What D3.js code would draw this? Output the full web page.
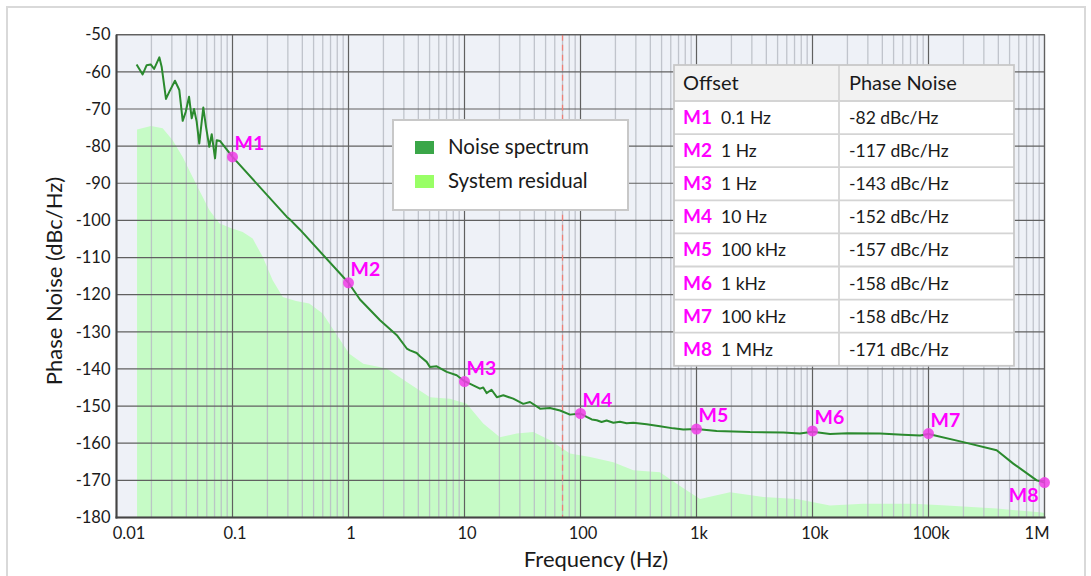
<!DOCTYPE html>
<html>
<head>
<meta charset="utf-8">
<script src="https://cdn.jsdelivr.net/npm/d3@7"></script>
<style>
  html, body { margin: 0; padding: 0; background: #ffffff; }
  svg { display: block; font-family: Lato, "Open Sans", sans-serif; }
</style>
</head>
<body>
<svg id="chart" width="1091" height="576"></svg>
<script>
// ---------------- DATA ----------------
const xTickValues = [0.01, 0.1, 1, 10, 100, 1e3, 1e4, 1e5, 1e6];
const xTickLabels = ["0.01", "0.1", "1", "10", "100", "1k", "10k", "100k", "1M"];
const yTickValues = [-50, -60, -70, -80, -90, -100, -110, -120, -130, -140, -150, -160, -170, -180];
const yTickLabels = ["-50", "-60", "-70", "-80", "-90", "-100", "-110", "-120", "-130", "-140", "-150", "-160", "-170", "-180"];

const noiseFreq = [0.0149, 0.0168, 0.0182, 0.0197, 0.0211, 0.0234, 0.0245, 0.0267, 0.0285, 0.0319,
  0.0348, 0.0372, 0.0395, 0.0422, 0.0445, 0.0466, 0.0491, 0.0517, 0.056, 0.0591,
  0.0631, 0.0662, 0.0707, 0.0731, 0.078, 0.1, 0.293, 0.309, 0.382, 1,
  1.256, 1.87, 2.61, 3.18, 3.39, 3.87, 4.13, 4.72, 5.04, 5.76,
  7.03, 8.57, 10, 11.9, 13.6, 14.5, 15.5, 17.1, 19.0, 21.6,
  26.3, 32.1, 36.7, 44.8, 54.6, 66.6, 81.2, 100, 113, 125,
  138, 152, 168, 192, 219, 250, 285, 372, 484, 631,
  769, 1000, 1493, 2890, 5600, 7800, 10000, 14150, 20000, 38200,
  60000, 84500, 100000, 200000, 387000, 538000, 857000, 1000000];
const noiseDb = [-58.0, -60.7, -58.2, -58.0, -59.2, -56.1, -58.6, -67.3, -65.4, -62.4,
  -64.9, -73.2, -70.8, -66.7, -72.5, -70.0, -73.4, -79.3, -69.6, -74.8,
  -80.2, -76.8, -83.3, -78.4, -78.6, -82.9, -99.0, -99.6, -102.5, -116.8,
  -121.3, -126.9, -130.9, -134.5, -135.0, -135.7, -136.6, -138.1, -139.5, -139.3,
  -140.8, -141.7, -143.3, -144.4, -145.3, -145.0, -146.5, -145.6, -147.6, -147.1,
  -148.0, -149.4, -148.9, -150.7, -150.5, -151.2, -152.3, -152.0, -152.9, -153.6,
  -153.8, -154.3, -153.9, -154.5, -154.2, -154.6, -154.5, -154.9, -155.4, -156.0,
  -156.3, -156.2, -156.7, -157.0, -157.1, -157.4, -156.9, -157.5, -157.3, -157.4,
  -157.7, -157.9, -157.5, -159.7, -161.9, -165.5, -170.0, -170.6];

const residualFreq = [0.01503, 0.01983, 0.025, 0.0305, 0.0372, 0.0484, 0.0631, 0.0769, 0.0939, 0.1224,
  0.1493, 0.182, 0.222, 0.271, 0.353, 0.459, 0.599, 0.78, 1.016, 1.341,
  2.135, 3.18, 5.04, 7.5, 10.45, 14.5, 20.2, 28.2, 39.2, 54.6,
  81.2, 121, 192, 285, 484, 721, 1072, 1945, 3767, 7310,
  14150, 27400, 74000, 143600, 387000, 914000, 1000000];
const residualDb = [-75.5, -74.6, -75.2, -78.4, -82.9, -90.1, -97.2, -100.8, -101.9, -103.1,
  -104.9, -109.8, -116.1, -120.6, -121.7, -122.4, -125.1, -130.5, -135.9, -138.6,
  -139.9, -143.5, -147.6, -148.0, -149.4, -154.7, -158.4, -157.4, -157.0, -159.2,
  -162.8, -163.7, -165.1, -167.3, -167.8, -171.5, -175.0, -173.2, -174.5, -175.0,
  -176.8, -176.3, -176.3, -176.8, -177.6, -178.6, -178.8];

const markerNames = ["M1", "M2", "M3", "M4", "M5", "M6", "M7", "M8"];
const markerFreq = [0.1, 1, 10, 100, 1e3, 1e4, 1e5, 1e6];
const markerDb = [-82.9, -116.8, -143.4, -152.0, -156.2, -156.7, -157.4, -170.6];

const tableHeader = ["Offset", "Phase Noise"];
const tableOffsets = ["0.1 Hz", "1 Hz", "1 Hz", "10 Hz", "100 kHz", "1 kHz", "100 kHz", "1 MHz"];
const tableNoise = ["-82 dBc/Hz", "-117 dBc/Hz", "-143 dBc/Hz", "-152 dBc/Hz", "-157 dBc/Hz", "-158 dBc/Hz", "-158 dBc/Hz", "-171 dBc/Hz"];

const legendLabels = ["Noise spectrum", "System residual"];
const cutoffFreq = 70;

// ---------------- LAYOUT ----------------
const svg = d3.select("#chart");
const L = 116.5, R = 1044.5, T = 34.7, B = 517.5;
const x = d3.scaleLog().domain([0.01, 1e6]).range([L, R]);
const y = d3.scaleLinear().domain([-180, -50]).range([B, T]);

const C = {
  plotBg: "#eef1f7", major: "#606060", minor: "#b9bdc5", residual: "#c6fbc6",
  noise: "#2b8a2e", marker: "#f03ce6", markerText: "#ff00ff", cutoff: "#f08078",
  legendNoise: "#3aa648", legendResidual: "#99ff66", text: "#1a1a1a"
};

// outer frame
svg.append("rect").attr("x", 7).attr("y", 7).attr("width", 1078).attr("height", 590)
  .attr("fill", "#fff").attr("stroke", "#d9d9d9").attr("stroke-width", 2);

// plot bg
svg.append("rect").attr("x", L).attr("y", T).attr("width", R - L).attr("height", B - T)
  .attr("fill", C.plotBg);

// residual area
const area = d3.area().x((d, i) => x(residualFreq[i])).y0(y(-180)).y1((d, i) => y(residualDb[i]));
svg.append("path").datum(residualDb).attr("d", area).attr("fill", C.residual);

// grid minor
const minorVals = [];
for (let e = -2; e < 6; e++) for (let m = 2; m <= 9; m++) minorVals.push(m * Math.pow(10, e));
const gx = svg.append("g");
gx.selectAll("line.minor").data(minorVals).join("line")
  .attr("x1", d => x(d)).attr("x2", d => x(d)).attr("y1", T).attr("y2", B)
  .attr("stroke", C.minor).attr("stroke-width", 1.3).attr("opacity", 0.85);
gx.selectAll("line.majx").data(xTickValues).join("line").attr("class", "majx")
  .attr("x1", d => x(d)).attr("x2", d => x(d)).attr("y1", T).attr("y2", B)
  .attr("stroke", C.major).attr("stroke-width", 1.2);
gx.selectAll("line.majy").data(yTickValues).join("line").attr("class", "majy")
  .attr("x1", L).attr("x2", R).attr("y1", d => y(d)).attr("y2", d => y(d))
  .attr("stroke", C.major).attr("stroke-width", 1.2);

// cutoff dashed line
svg.append("line").attr("x1", x(cutoffFreq)).attr("x2", x(cutoffFreq)).attr("y1", T).attr("y2", B)
  .attr("stroke", C.cutoff).attr("stroke-width", 1.3).attr("stroke-dasharray", "6,4");

// border
svg.append("rect").attr("x", L).attr("y", T).attr("width", R - L).attr("height", B - T)
  .attr("fill", "none").attr("stroke", C.major).attr("stroke-width", 1.2);
svg.append("line").attr("x1", L).attr("x2", L).attr("y1", T).attr("y2", B + 1).attr("stroke", "#444").attr("stroke-width", 2);
svg.append("line").attr("x1", L - 1).attr("x2", R + 1).attr("y1", B).attr("y2", B).attr("stroke", "#444").attr("stroke-width", 2);

// noise line
const line = d3.line().x((d, i) => x(noiseFreq[i])).y(d => y(d));
svg.append("path").datum(noiseDb).attr("d", line).attr("fill", "none")
  .attr("stroke", C.noise).attr("stroke-width", 2).attr("stroke-linejoin", "round");

// markers
const mk = svg.append("g");
markerNames.forEach((n, i) => {
  const px = x(markerFreq[i]), py = y(markerDb[i]);
  mk.append("circle").attr("cx", px).attr("cy", py).attr("r", 5.5).attr("fill", C.marker).attr("opacity", 0.85);
  const last = i === markerNames.length - 1;
  mk.append("text").attr("x", last ? px - 6 : px + 2).attr("y", last ? py + 19 : py - 7)
    .attr("text-anchor", last ? "end" : "start")
    .attr("font-size", 19.5).attr("font-weight", "bold").attr("fill", C.markerText).text(n);
});

// axes ticks
const yAxis = d3.axisLeft(y).tickValues(yTickValues).tickFormat((d, i) => yTickLabels[i]).tickSize(0).tickPadding(6);
const ya = svg.append("g").attr("transform", `translate(${L},0)`).call(yAxis);
ya.select(".domain").remove();
ya.selectAll("text").attr("font-size", 16.5).attr("fill", C.text).attr("font-family", "Lato");

const xAxis = d3.axisBottom(x).tickValues(xTickValues).tickFormat((d, i) => xTickLabels[i]).tickSize(0).tickPadding(10);
const xa = svg.append("g").attr("transform", `translate(0,${B})`).call(xAxis);
xa.select(".domain").remove();
xa.selectAll("text").attr("font-size", 16.5).attr("fill", C.text).attr("font-family", "Lato")
  .attr("dx", (d, i) => i === 0 ? 12 : (i === xTickValues.length - 1 ? -8 : 2));

// axis titles
svg.append("text").attr("x", 596).attr("y", 567).attr("text-anchor", "middle")
  .attr("font-size", 22).attr("fill", C.text).text("Frequency (Hz)");
svg.append("text").attr("transform", "translate(62,281) rotate(-90)").attr("text-anchor", "middle")
  .attr("font-size", 22).attr("fill", C.text).text("Phase Noise (dBc/Hz)");

// legend
const lg = svg.append("g");
lg.append("rect").attr("x", 393).attr("y", 120).attr("width", 235).attr("height", 90)
  .attr("fill", "#fff").attr("stroke", "#c8c8c8").attr("stroke-width", 2);
[C.legendNoise, C.legendResidual].forEach((c, i) => {
  lg.append("rect").attr("x", 415).attr("y", 141 + i * 34).attr("width", 19).attr("height", 13).attr("fill", c);
  lg.append("text").attr("x", 448).attr("y", 154 + i * 34).attr("font-size", 20.5).attr("fill", C.text).text(legendLabels[i]);
});

// table
const tb = svg.append("g");
const tx0 = 674, tx1 = 1014, tcol = 839, ty0 = 65, thead = 36, rowH = 33.1;
const ty1 = ty0 + thead + rowH * tableOffsets.length;
tb.append("rect").attr("x", tx0).attr("y", ty0).attr("width", tx1 - tx0).attr("height", ty1 - ty0).attr("fill", "#fff");
tb.append("rect").attr("x", tx0).attr("y", ty0).attr("width", tx1 - tx0).attr("height", thead).attr("fill", "#f2f2f2");
tableOffsets.forEach((o, i) => {
  const top = ty0 + thead + i * rowH;
  tb.append("line").attr("x1", tx0).attr("x2", tx1).attr("y1", top).attr("y2", top).attr("stroke", "#d4d4d4").attr("stroke-width", 1.8);
  const base = top + rowH / 2 + 6.5;
  tb.append("text").attr("x", 683).attr("y", base).attr("font-size", 19).attr("font-weight", "bold").attr("fill", C.markerText).text(markerNames[i]);
  tb.append("text").attr("x", 721).attr("y", base).attr("font-size", 17.5).attr("fill", C.text).text(o);
  tb.append("text").attr("x", 849).attr("y", base).attr("font-size", 17.5).attr("fill", C.text).text(tableNoise[i]);
});
tb.append("line").attr("x1", tcol).attr("x2", tcol).attr("y1", ty0).attr("y2", ty1).attr("stroke", "#d4d4d4").attr("stroke-width", 1.8);
tb.append("rect").attr("x", tx0).attr("y", ty0).attr("width", tx1 - tx0).attr("height", ty1 - ty0)
  .attr("fill", "none").attr("stroke", "#c8c8c8").attr("stroke-width", 1.8);
tb.append("text").attr("x", 683).attr("y", ty0 + 25).attr("font-size", 20).attr("fill", C.text).text(tableHeader[0]);
tb.append("text").attr("x", 849).attr("y", ty0 + 25).attr("font-size", 20).attr("fill", C.text).text(tableHeader[1]);
</script>
</body>
</html>
